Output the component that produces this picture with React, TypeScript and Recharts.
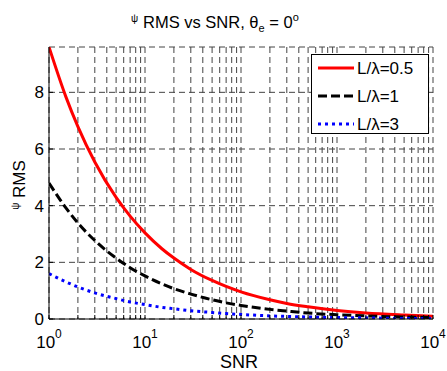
import { LineChart, Line, XAxis, YAxis, CartesianGrid, Legend, Customized } from 'recharts';

const FONT = '"Liberation Sans", Arial, Helvetica, sans-serif';

// SNR sample points (log axis) and RMS readings for each L/lambda
const snr = [1, 1.5, 2, 3, 5, 7, 10, 15, 20, 30, 50, 70, 100, 200, 300, 500, 1000, 2000, 5000, 10000];
const rmsHalf = [9.6, 7.84, 6.79, 5.54, 4.29, 3.63, 3.04, 2.48, 2.15, 1.75, 1.36, 1.15, 0.96, 0.68, 0.55, 0.43, 0.3, 0.21, 0.14, 0.1];
const rmsOne = [4.8, 3.92, 3.39, 2.77, 2.15, 1.81, 1.52, 1.24, 1.07, 0.88, 0.68, 0.57, 0.48, 0.34, 0.28, 0.21, 0.15, 0.11, 0.07, 0.05];
const rmsThree = [1.6, 1.31, 1.13, 0.92, 0.72, 0.6, 0.51, 0.41, 0.36, 0.29, 0.23, 0.19, 0.16, 0.11, 0.09, 0.07, 0.05, 0.04, 0.02, 0.02];

const majorTicks = [1, 10, 100, 1000, 10000];
const minorSteps = [2, 3, 4, 5, 6, 7, 8, 9];
const xTicks = [...majorTicks, ...majorTicks.slice(0, 4).flatMap((d) => minorSteps.map((m) => m * d))].sort((a, b) => a - b);
const yTicks = [0, 2, 4, 6, 8];

const series = [
  { key: 'half', name: 'L/λ=0.5', color: '#ff0000', dash: undefined },
  { key: 'one', name: 'L/λ=1', color: '#000000', dash: '9 4' },
  { key: 'three', name: 'L/λ=3', color: '#0000ff', dash: '3 4' },
];

const data = snr.map((s, i) => ({ snr: s, half: rmsHalf[i], one: rmsOne[i], three: rmsThree[i] }));

const BottomTick = (props: any) => {
  const { x, y, payload } = props;
  const v = payload.value;
  const major = majorTicks.includes(v);
  return (
    <g>
      <line x1={x} x2={x} y1={y} y2={y - 4} stroke="#000" />
      {major && (
        <text x={x} y={y + 29} textAnchor="middle" fontSize={17} fontFamily={FONT} fill="#000">
          10<tspan dy={-10} fontSize={12}>{Math.round(Math.log10(v))}</tspan>
        </text>
      )}
    </g>
  );
};

const TopTick = (props: any) => {
  const { x, y } = props;
  return <line x1={x} x2={x} y1={y} y2={y + 4} stroke="#000" />;
};

const LeftTick = (props: any) => {
  const { x, y, payload } = props;
  return (
    <g>
      <line x1={x} x2={x + 4} y1={y} y2={y} stroke="#000" />
      <text x={x - 5} y={y + 6} textAnchor="end" fontSize={17} fontFamily={FONT} fill="#000">
        {payload.value}
      </text>
    </g>
  );
};

const RightTick = (props: any) => {
  const { x, y } = props;
  return <line x1={x} x2={x - 4} y1={y} y2={y} stroke="#000" />;
};

const Labels = () => (
  <g fontFamily={FONT} fill="#000">
    <text x={131} y={28} fontSize={16.5}>
      <tspan fontSize={10} dy={-6}>ψ</tspan>
      <tspan x={143} dy={6}>RMS vs SNR, θ</tspan>
      <tspan fontSize={11} dy={4}>e</tspan>
      <tspan dy={-4}> = 0</tspan>
      <tspan fontSize={11} dy={-7}>o</tspan>
    </text>
    <text x={239} y={368} fontSize={18} textAnchor="middle">SNR</text>
    <text transform="translate(25,185) rotate(-90)" fontSize={17} textAnchor="middle">
      <tspan fontSize={10} dy={-6}>ψ</tspan>
      <tspan dy={6}> RMS</tspan>
    </text>
  </g>
);

const LegendBox = () => (
  <div
    style={{
      width: 118,
      height: 80,
      boxSizing: 'border-box',
      border: '1px solid #000',
      background: '#fff',
      fontFamily: FONT,
    }}
  >
    <svg width={116} height={78}>
      {series.map((s, i) => (
        <g key={s.key}>
          <line x1={6} x2={42} y1={13 + i * 28} y2={13 + i * 28} stroke={s.color} strokeWidth={3} strokeDasharray={s.dash} />
          <text x={45} y={19 + i * 28} fontSize={17} fontFamily={FONT} fill="#000">
            {s.name}
          </text>
        </g>
      ))}
    </svg>
  </div>
);

export default function App() {
  return (
    <div style={{ position: 'absolute', left: 0, top: 0, width: 447, height: 371, background: '#fff' }}>
      <LineChart width={447} height={371} data={data} margin={{ top: 47, right: 14, bottom: 0, left: 0 }}>
        <CartesianGrid xAxisId="b" yAxisId="l" stroke="#444" strokeDasharray="6 4" />
        <XAxis
          xAxisId="b"
          dataKey="snr"
          type="number"
          scale="log"
          domain={[1, 10000]}
          ticks={xTicks}
          interval={0}
          height={52}
          tickSize={0}
          tickMargin={0}
          tickLine={false}
          axisLine={{ stroke: '#000' }}
          tick={<BottomTick />}
          allowDataOverflow
        />
        <XAxis
          xAxisId="t"
          orientation="top"
          dataKey="snr"
          type="number"
          scale="log"
          domain={[1, 10000]}
          ticks={xTicks}
          interval={0}
          height={0}
          tickSize={0}
          tickMargin={0}
          tickLine={false}
          axisLine={{ stroke: '#000' }}
          tick={<TopTick />}
          allowDataOverflow
        />
        <YAxis
          yAxisId="l"
          domain={[0, 9.6]}
          ticks={yTicks}
          interval={0}
          width={49}
          tickSize={0}
          tickMargin={0}
          tickLine={false}
          axisLine={{ stroke: '#000' }}
          tick={<LeftTick />}
          allowDataOverflow
        />
        <YAxis
          yAxisId="r"
          orientation="right"
          domain={[0, 9.6]}
          ticks={yTicks}
          interval={0}
          width={0}
          tickSize={0}
          tickMargin={0}
          tickLine={false}
          axisLine={{ stroke: '#000' }}
          tick={<RightTick />}
          allowDataOverflow
        />
        {series.map((s) => (
          <Line
            key={s.key}
            xAxisId="b"
            yAxisId="l"
            dataKey={s.key}
            name={s.name}
            type="monotone"
            stroke={s.color}
            strokeWidth={3}
            strokeDasharray={s.dash}
            dot={false}
            isAnimationActive={false}
          />
        ))}
        <Legend
          layout="vertical"
          align="center"
          verticalAlign="middle"
          content={<LegendBox />}
          wrapperStyle={{ position: 'absolute', left: 311, top: 54, width: 118, height: 80 }}
        />
        <Customized component={<Labels />} />
      </LineChart>
    </div>
  );
}
